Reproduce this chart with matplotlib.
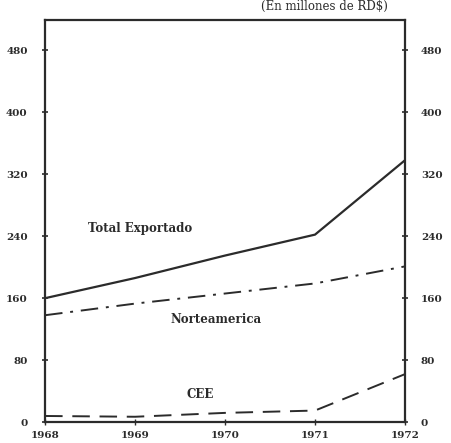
import matplotlib
matplotlib.use("Agg")
import matplotlib.pyplot as plt

# Exportaciones (en millones de RD$)
years = [1968, 1969, 1970, 1971, 1972]
total_exportado = [160, 186, 215, 242, 338]
norteamerica = [138, 153, 166, 179, 201]
cee = [8, 7, 12, 15, 62]
y_ticks = [0, 80, 160, 240, 320, 400, 480]
x_ticks = [1968, 1969, 1970, 1971, 1972]

plt.rcParams['font.family'] = ['DejaVu Serif', 'Liberation Serif']
ink = '#2b2b2b'

fig = plt.figure(figsize=(4.51, 4.43), dpi=100)
ax = fig.add_axes([0.10, 0.047, 0.798, 0.908])

ax.plot(years, total_exportado, color=ink, lw=1.6, solid_capstyle='butt')
ax.plot(years, norteamerica, color=ink, lw=1.4, dashes=(9, 4, 1.5, 4))
ax.plot(years, cee, color=ink, lw=1.4, dashes=(9, 5))

ax.set_xlim(1968, 1972)
ax.set_ylim(0, 519)
ax.set_yticks(y_ticks)
ax.set_xticks(x_ticks)

for s in ax.spines.values():
    s.set_linewidth(1.6)
    s.set_color(ink)

ax.tick_params(axis='y', direction='inout', length=5, width=1.2, colors=ink,
               labelsize=7.5, pad=10)
ax.tick_params(axis='x', direction='inout', length=4, width=1.0, colors=ink,
               labelsize=7.5, pad=4)

ax2 = ax.twinx()
ax2.set_ylim(ax.get_ylim())
ax2.set_yticks(y_ticks)
ax2.tick_params(axis='y', direction='inout', length=5, width=1.2, colors=ink,
                labelsize=7.5, pad=9)
for s in ax2.spines.values():
    s.set_visible(False)

for lab in ax.get_xticklabels() + ax.get_yticklabels() + ax2.get_yticklabels():
    lab.set_fontweight('bold')
    lab.set_color(ink)

# series labels
ax.text(1968.48, 250, 'Total Exportado', fontsize=8.5, fontweight='bold',
        color=ink, va='center', ha='left')
ax.text(1969.9, 133, 'Norteamerica', fontsize=8.5, fontweight='bold',
        color=ink, va='center', ha='center')
ax.text(1969.72, 36, 'CEE', fontsize=8.5, fontweight='bold',
        color=ink, va='center', ha='center')

fig.text(0.72, 0.999, '(En millones de RD$)', fontsize=8.5, color=ink,
         ha='center', va='top')

fig.savefig('out.png', dpi=100, facecolor='white')
